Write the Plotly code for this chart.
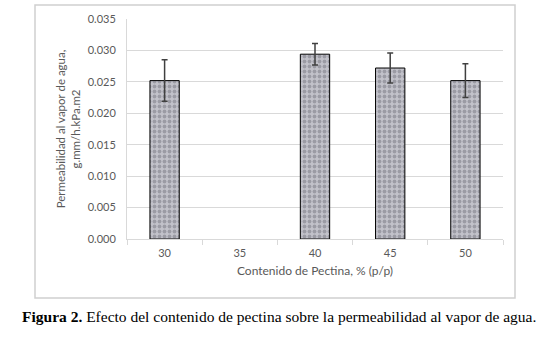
import plotly.graph_objects as go

categories = ["30", "35", "40", "45", "50"]
values = [0.0252, None, 0.0294, 0.0272, 0.0252]
errors = [0.0033, None, 0.0017, 0.0024, 0.0027]
y_ticks = [0.000, 0.005, 0.010, 0.015, 0.020, 0.025, 0.030, 0.035]

x_title = "Contenido de Pectina, % (p/p)"
y_title = "Permeabilidad al vapor de agua,<br>g.mm/h.kPa.m2"
caption = "<b>Figura 2.</b> Efecto del contenido de pectina sobre la permeabilidad al vapor de agua."

fig = go.Figure()
fig.add_trace(go.Bar(
    x=categories, y=values, width=0.39,
    marker=dict(
        color="#b8b8c0",
        line=dict(color="#000000", width=1),
        pattern=dict(shape=".", fgcolor="#74747e", bgcolor="#c2c2ca",
                     size=5, solidity=0.45, fillmode="overlay"),
    ),
    error_y=dict(type="data", array=errors, visible=True,
                 color="#404040", thickness=1.5, width=3),
))

W, H = 553, 343
L, R, T, B = 127, 503, 19, 239
pw, ph = R - L, B - T

def px(x):
    return (x - L) / pw

def py(y):
    return (B - y) / ph

fig.update_layout(
    width=W, height=H,
    margin=dict(l=L, r=W - R, t=T, b=H - B),
    paper_bgcolor="white", plot_bgcolor="white",
    showlegend=False,
    font=dict(family="Lato, Open Sans, sans-serif", color="#595959", size=11),
    bargap=0.61,
    xaxis=dict(
        type="category", categoryorder="array", categoryarray=categories,
        tickson="boundaries", ticks="outside", ticklen=5, tickcolor="#d9d9d9",
        showline=True, linecolor="#d9d9d9", linewidth=1,
        showgrid=False, tickfont=dict(size=11, color="#595959"),
        ticklabelstandoff=4,
        title=dict(text=x_title, font=dict(size=12, color="#595959"), standoff=8),
    ),
    yaxis=dict(
        range=[0, 0.035], tickvals=y_ticks, tickformat=".3f",
        showgrid=True, gridcolor="#d9d9d9", gridwidth=1,
        showline=True, linecolor="#d9d9d9", zeroline=False,
        ticks="", tickfont=dict(size=11, color="#595959"),
        ticklabelstandoff=8,
        title=dict(text=y_title, font=dict(size=11.5, color="#595959"), standoff=4),
    ),
    shapes=[dict(type="rect", xref="paper", yref="paper",
                 x0=px(35), x1=px(515), y0=py(298), y1=py(5),
                 line=dict(color="#d0d0d0", width=1.5), fillcolor="rgba(0,0,0,0)",
                 layer="above")],
    annotations=[dict(text=caption, xref="paper", yref="paper",
                      x=px(279), y=py(316), xanchor="center", yanchor="middle",
                      showarrow=False,
                      font=dict(family="Liberation Serif, Times New Roman, serif",
                                size=15.5, color="#000000"))],
)

fig.write_html("out.html", config={"displayModeBar": False},
               post_script="document.body.style.margin='0';")
